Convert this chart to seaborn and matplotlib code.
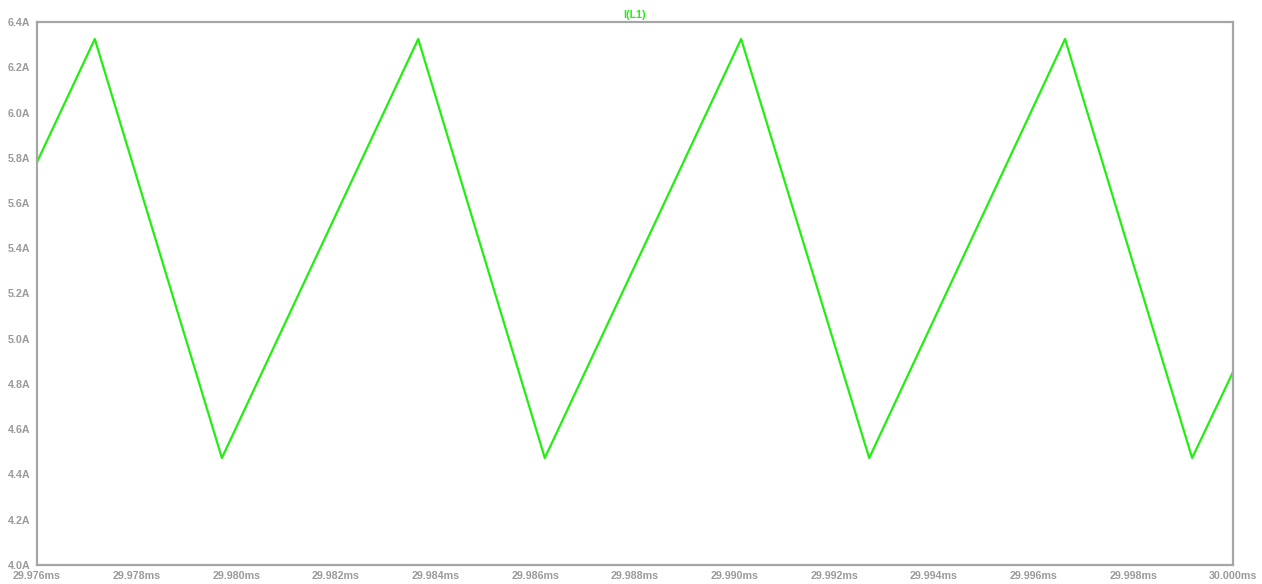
import matplotlib
matplotlib.use("Agg")
import matplotlib.pyplot as plt
import seaborn as sns
import pandas as pd
from matplotlib.ticker import FuncFormatter, MultipleLocator

# Inductor current waveform vertices (time in ms, current in A)
time_ms = [29.97600, 29.97716, 29.97971, 29.98365, 29.98619, 29.99013,
           29.99270, 29.99663, 29.99918, 30.00000]
current_a = [5.781, 6.325, 4.473, 6.325, 4.473, 6.325,
             4.473, 6.325, 4.473, 4.853]

trace_name = "I(L1)"
x_ticks = [29.976, 29.978, 29.980, 29.982, 29.984, 29.986, 29.988,
           29.990, 29.992, 29.994, 29.996, 29.998, 30.000]
y_ticks = [4.0, 4.2, 4.4, 4.6, 4.8, 5.0, 5.2, 5.4, 5.6, 5.8, 6.0, 6.2, 6.4]

df = pd.DataFrame({"t": time_ms, "i": current_a})

sns.set_theme(style="white")
plt.rcParams["font.family"] = ["Liberation Sans", "DejaVu Sans"]

gray = "#a6a6a6"
label_gray = "#9a9a9a"
green = "#22ee11"

fig = plt.figure(figsize=(12.62, 5.84), dpi=100)
ax = fig.add_axes([37 / 1262, 19 / 584, (1233 - 37) / 1262, (565 - 22) / 584])

sns.lineplot(data=df, x="t", y="i", ax=ax, color=green, linewidth=1.6,
             estimator=None, sort=False)

ax.set_xlim(29.976, 30.000)
ax.set_ylim(4.0, 6.4)
ax.set_xticks(x_ticks)
ax.set_yticks(y_ticks)
ax.xaxis.set_major_formatter(FuncFormatter(lambda v, p: f"{v:.3f}ms"))
ax.yaxis.set_major_formatter(FuncFormatter(lambda v, p: f"{v:.1f}A"))
ax.set_xlabel("")
ax.set_ylabel("")

for s in ax.spines.values():
    s.set_color(gray)
    s.set_linewidth(1.6)

ax.tick_params(axis="both", which="major", direction="out", length=4,
               width=1.2, color=gray, labelcolor=label_gray, labelsize=7.7,
               pad=1)
ax.tick_params(axis="x", pad=0.5)
for lbl in ax.get_xticklabels() + ax.get_yticklabels():
    lbl.set_fontweight("bold")

ax.set_title(trace_name, color=green, fontsize=7.7, fontweight="bold", pad=3)
ax.grid(False)

fig.savefig("out.png", dpi=100, facecolor="white")
